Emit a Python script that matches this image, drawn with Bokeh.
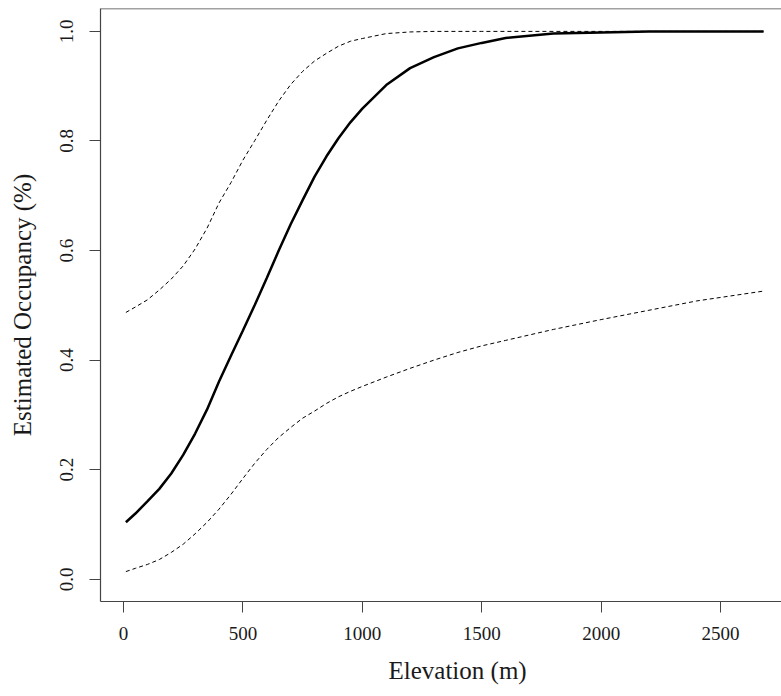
from bokeh.plotting import figure
from bokeh.models import FixedTicker, PrintfTickFormatter, Range1d, Span, Title
from bokeh.embed import file_html
from bokeh.resources import INLINE

# Elevation (m)
elevation = [10, 50, 100, 150, 200, 250, 300, 350, 400, 450, 500, 550, 600, 650,
             700, 750, 800, 850, 900, 950, 1000, 1100, 1200, 1300, 1400, 1500,
             1600, 1800, 2000, 2200, 2400, 2680]
# Estimated occupancy (mean)
occ_mean = [0.104, 0.120, 0.142, 0.165, 0.193, 0.227, 0.266, 0.310, 0.361, 0.408,
            0.454, 0.501, 0.550, 0.600, 0.648, 0.692, 0.735, 0.772, 0.805, 0.834,
            0.859, 0.902, 0.933, 0.953, 0.969, 0.979, 0.988, 0.996, 0.998, 1.000,
            1.000, 1.000]
# Upper confidence bound
occ_upper = [0.487, 0.497, 0.510, 0.528, 0.548, 0.572, 0.603, 0.641, 0.687, 0.724,
             0.765, 0.801, 0.838, 0.873, 0.903, 0.927, 0.946, 0.960, 0.973, 0.982,
             0.987, 0.996, 0.999, 1.000, 1.000, 1.000, 1.000, 1.000, 1.000, 1.000,
             1.000, 1.000]
# Lower confidence bound
occ_lower = [0.014, 0.020, 0.027, 0.036, 0.049, 0.064, 0.083, 0.104, 0.128, 0.155,
             0.184, 0.212, 0.237, 0.259, 0.277, 0.294, 0.307, 0.321, 0.333, 0.343,
             0.352, 0.369, 0.385, 0.400, 0.414, 0.426, 0.436, 0.456, 0.474, 0.491,
             0.508, 0.526]

x_ticks = [0, 500, 1000, 1500, 2000, 2500]
y_ticks = [0.0, 0.2, 0.4, 0.6, 0.8, 1.0]
x_title = "Elevation (m)"
y_title = "Estimated Occupancy (%)"

FONT = "Liberation Serif"
TXT = "#1a1a1a"
LINE = "#444444"

X0, X1 = -96.3, 2755
Y0, Y1 = -0.0406, 1.0418

p = figure(width=781, height=696, output_backend="svg", toolbar_location=None,
           x_range=Range1d(X0, X1), y_range=Range1d(Y0, Y1),
           min_border_left=100, min_border_top=8, min_border_right=0,
           min_border_bottom=93)

p.background_fill_color = "white"
p.border_fill_color = "white"
p.outline_line_color = None
p.grid.visible = False

p.line(elevation, occ_upper, line_color="black", line_width=1, line_dash="4 3")
p.line(elevation, occ_lower, line_color="black", line_width=1, line_dash="4 3")
p.line(elevation, occ_mean, line_color="black", line_width=2.5)

# top border of the box
top = Span(location=Y1, dimension="width", line_color=LINE, line_width=1.5)
p.add_layout(top)

xa = p.xaxis[0]
xa.ticker = FixedTicker(ticks=x_ticks, minor_ticks=[])
ya = p.yaxis[0]
ya.ticker = FixedTicker(ticks=y_ticks, minor_ticks=[])
ya.formatter = PrintfTickFormatter(format="%.1f")
ya.axis_label = y_title
ya.major_label_orientation = "vertical"

for ax in (xa, ya):
    ax.axis_line_color = LINE
    ax.axis_line_width = 1.2
    ax.major_tick_line_color = LINE
    ax.major_tick_in = 0
    ax.major_tick_out = 11
    ax.minor_tick_line_color = None
    ax.major_label_text_font = FONT
    ax.major_label_text_font_size = "19px"
    ax.major_label_text_color = TXT
    ax.axis_label_text_font = FONT
    ax.axis_label_text_font_size = "25px"
    ax.axis_label_text_font_style = "normal"
    ax.axis_label_text_color = TXT

xa.major_label_standoff = 14
ya.major_label_standoff = 16
ya.axis_label_standoff = 22

# x-axis title, centred on the (wider, cropped) original plot region
xlab = Title(text=x_title, align="left", offset=288, standoff=25,
             text_font=FONT, text_font_size="25px", text_font_style="normal",
             text_color=TXT)
p.add_layout(xlab, "below")

open("out.html", "w").write(file_html(p, INLINE))
